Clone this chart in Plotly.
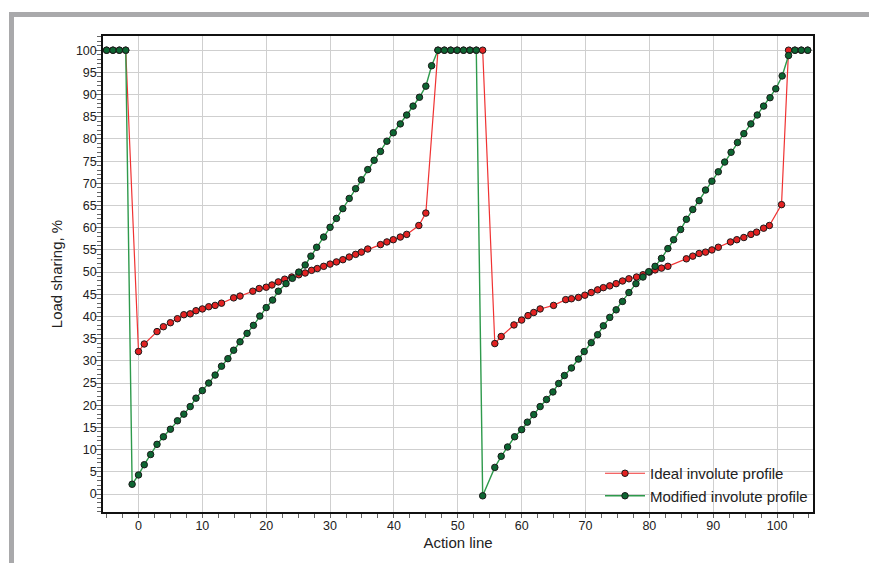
import plotly.graph_objects as go

# ---- data ----
ideal_x = [-5, -4, -3, -2, 0, 0.9, 2.9, 3.9, 5.0, 6.1, 7.1, 8.1, 9.0, 10.0, 11.0, 12.0, 13.0,
           14.9, 15.9, 17.9, 18.9, 20.0, 20.9, 21.9, 22.9, 24.0, 25.1, 26.1, 27.1, 28.0, 29.0,
           30.0, 31.0, 32.0, 33.0, 34.0, 34.9, 35.9, 37.9, 38.9, 39.9, 41.0, 42.0, 43.9, 45.0,
           46.9, 47.9, 48.9, 49.9, 50.9, 51.9, 52.9, 53.9,
           55.8, 56.8, 58.8, 60.0, 61.0, 61.9, 62.9, 65.0, 66.9, 67.8, 68.9, 69.9, 70.9, 71.9,
           72.8, 73.8, 74.8, 75.8, 76.8, 78.0, 79.0, 80.0, 80.9, 81.9, 82.9, 85.8, 86.8, 87.8,
           88.8, 89.8, 90.8, 92.7, 93.7, 94.8, 95.9, 96.8, 97.9, 98.8, 100.7,
           101.8, 102.8, 103.8, 104.8]
ideal_y = [100, 100, 100, 100, 32.1, 33.8, 36.6, 37.7, 38.6, 39.5, 40.4, 40.6, 41.3, 41.7, 42.2, 42.5, 43.0,
           44.2, 44.6, 45.7, 46.3, 46.6, 47.1, 47.8, 48.4, 48.9, 49.4, 49.8, 50.4, 50.8, 51.3,
           51.8, 52.3, 52.8, 53.4, 54.0, 54.5, 55.2, 56.2, 56.8, 57.3, 57.9, 58.5, 60.5, 63.3,
           100, 100, 100, 100, 100, 100, 100, 100,
           33.9, 35.5, 38.1, 39.2, 40.2, 40.9, 41.7, 42.5, 43.8, 44.0, 44.3, 44.8, 45.4, 46.0,
           46.5, 46.9, 47.4, 48.0, 48.5, 48.9, 49.4, 50.0, 50.5, 50.9, 51.3, 53.0, 53.6, 54.2,
           54.5, 55.0, 55.6, 56.8, 57.3, 57.8, 58.5, 59.0, 59.9, 60.5, 65.2,
           100, 100, 100, 100]

modified_x = [-5, -4, -3, -2, -1, 0, 0.9, 1.9, 2.9, 3.9, 5.0, 6.1, 7.1, 8.1, 9.0, 10.0, 11.0, 12.0,
              13.0, 14.0, 14.9, 15.9, 17.0, 18.0, 19.0, 20.0, 21.0, 21.9, 23.1, 24.1, 25.1, 26.1,
              27.0, 27.9, 29.0, 30.0, 31.0, 32.0, 33.0, 34.0, 34.9, 35.9, 36.9, 37.9, 38.9, 39.9,
              41.0, 42.0, 43.0, 44.0, 45.0, 45.9,
              46.9, 47.9, 48.9, 49.9, 50.9, 51.9, 52.9,
              53.9, 55.8, 56.8, 57.8, 58.9, 60.0, 60.9, 61.9, 62.9, 63.9, 64.9, 65.8, 66.7, 67.8,
              68.9, 69.8, 70.9, 71.9, 72.8, 73.8, 74.8, 75.8, 76.8, 77.9, 79.0, 79.9, 80.9, 81.9,
              82.9, 83.8, 84.9, 85.8, 86.8, 87.8, 88.8, 89.8, 90.8, 91.8, 92.8, 93.8, 94.8, 95.9,
              96.9, 97.9, 98.9, 99.8, 100.8, 101.8, 102.8, 103.8, 104.8]
modified_y = [100, 100, 100, 100, 2.2, 4.3, 6.6, 8.9, 11.2, 12.9, 14.6, 16.5, 18.0, 19.7, 21.6, 23.3, 25.0, 26.8,
              28.8, 30.5, 32.4, 34.3, 36.2, 38.0, 40.1, 42.0, 43.7, 45.7, 47.4, 48.6, 50.0, 51.6,
              53.6, 55.6, 57.9, 60.1, 62.1, 64.3, 66.6, 68.8, 70.8, 73.1, 75.2, 77.2, 79.5, 81.4,
              83.4, 85.4, 87.4, 89.4, 91.9, 96.5,
              100, 100, 100, 100, 100, 100, 100,
              -0.4, 6.0, 8.5, 10.6, 12.9, 14.5, 16.2, 17.9, 19.7, 21.3, 23.0, 24.9, 26.7, 28.4,
              30.4, 32.1, 34.1, 35.9, 37.9, 39.8, 41.5, 43.4, 45.4, 47.4, 48.9, 50.1, 51.3, 53.1,
              55.3, 57.3, 59.6, 61.9, 64.1, 66.1, 68.5, 70.5, 72.6, 74.8, 77.0, 79.2, 81.2, 83.4,
              85.4, 87.4, 89.3, 91.3, 94.2, 98.8, 100, 100, 100]

assert len(ideal_x) == len(ideal_y)
assert len(modified_x) == len(modified_y)

FONT = "Liberation Sans, Arial, sans-serif"

# plot area (figure coords): left 95, top 28, width 710, height 476
PL, PT, PW, PH = 95, 28, 710, 476

fig = go.Figure()
fig.add_trace(go.Scatter(
    x=ideal_x, y=ideal_y, mode="lines+markers", name="Ideal involute profile",
    line=dict(color="#f03232", width=1.2),
    marker=dict(size=6.5, color="#e32222", line=dict(color="#1a1a1a", width=1)),
))
fig.add_trace(go.Scatter(
    x=modified_x, y=modified_y, mode="lines+markers", name="Modified involute profile",
    line=dict(color="#2e9a4c", width=1.4),
    marker=dict(size=6.5, color="#0d6632", line=dict(color="#1a1a1a", width=1)),
))

fig.update_layout(
    width=869, height=555,
    margin=dict(l=PL, r=869 - PL - PW, t=PT, b=555 - PT - PH),
    paper_bgcolor="white", plot_bgcolor="white",
    font=dict(family=FONT, color="#222222", size=12.5),
    showlegend=True,
    legend=dict(x=1.0, xanchor="right", y=0.0, yanchor="bottom",
                bgcolor="rgba(0,0,0,0)", font=dict(size=15, family=FONT, color="#222"),
                itemwidth=40),
    xaxis=dict(
        range=[-5.56, 105.63], dtick=10, tick0=0,
        showgrid=True, gridcolor="#cfcfcf", gridwidth=1,
        showline=True, linecolor="#111", linewidth=1.5, mirror=True,
        ticks="outside", ticklen=4, tickcolor="#666", tickwidth=1,
        ticklabelstandoff=-3,
        minor=dict(dtick=2.5, tick0=0, ticks="outside", ticklen=4, tickcolor="#666", showgrid=False),
        zeroline=False,
        title=dict(text="Action line", font=dict(size=15, family=FONT, color="#222"), standoff=6),
        tickfont=dict(size=12.5, family=FONT, color="#222"),
    ),
    yaxis=dict(
        range=[-4.05, 103.2], dtick=5, tick0=0,
        showgrid=True, gridcolor="#cfcfcf", gridwidth=1,
        showline=True, linecolor="#111", linewidth=1.5, mirror=True,
        ticks="outside", ticklen=6, tickcolor="#666", tickwidth=1,
        ticklabelstandoff=-4,
        minor=dict(dtick=1, tick0=0, ticks="outside", ticklen=4, tickcolor="#666", showgrid=False),
        zeroline=False,
        title=dict(text="Load sharing, %", font=dict(size=15, family=FONT, color="#222"), standoff=10),
        tickfont=dict(size=12.5, family=FONT, color="#222"),
    ),
    shapes=[dict(
        type="rect", xref="paper", yref="paper",
        x0=(3.5 - PL) / PW, x1=(867 - PL) / PW,
        y0=(PT + PH - 620) / PH, y1=(PT + PH - 6.5) / PH,
        line=dict(color="#a9a9ab", width=5), fillcolor="rgba(0,0,0,0)", layer="below",
    )],
)

fig.write_html("out.html")
